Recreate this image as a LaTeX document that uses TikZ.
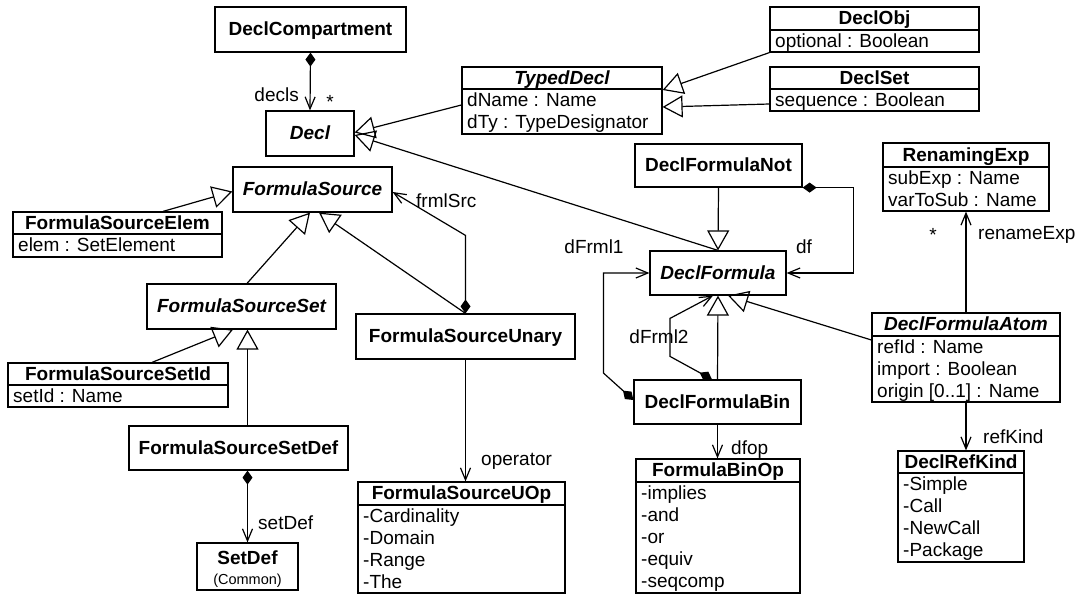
\documentclass[tikz,border=0pt]{standalone}
\usepackage{fontspec}
\setmainfont{Liberation Sans}
\usetikzlibrary{arrows.meta,fit}

\newcommand\basefont{\fontsize{19pt}{22pt}\selectfont}
\newcommand\clsfont{\basefont\bfseries}
\newcommand\absfont{\basefont\bfseries\itshape}
\newcommand\pkgfont{\fontsize{14.5pt}{17pt}\selectfont}

% class with only a name compartment
% #1 name, #2 left, #3 top, #4 right, #5 bottom, #6 font, #7 title
\newcommand\simplebox[7]{%
  \node[box, minimum width={(#4-#2)*1pt}, minimum height={(#5-#3)*1pt}, font=#6]
    (#1) at ({(#2+#4)/2},{(#3+#5)/2}) {#7};
}
% class with a name compartment and a member compartment
% #1 name, #2 left, #3 top, #4 right, #5 bottom, #6 separator, #7 font, #8 title
\newcommand\classbox[8]{%
  \node[box, fit={(#2,#3)(#4,#5)}] (#1) {};
  \draw[box] (#1.west |- 0,#6) -- (#1.east |- 0,#6);
  \node[head, font=#7] (#1-name) at ({(#2+#4)/2},{(#3+#6)/2}) {#8};
}
% one member line: #1 name, #2 x, #3 y, #4 text
\newcommand\member[4]{\node[attr] (#1) at (#2,#3) {#4};}

\tikzset{
  box/.style={draw, line width=1.2pt, inner sep=0pt, text height=12.5pt, text depth=0pt},
  head/.style={inner sep=0pt, text height=12.5pt, text depth=0pt},
  attr/.style={anchor=west, inner sep=0pt, text height=12.5pt, text depth=0pt, font=\basefont},
  lbl/.style={inner sep=0pt, text height=12.5pt, text depth=0pt, font=\basefont},
  wire/.style={line width=1.2pt},
  gen/.style={wire, -{Triangle[open, length=20pt, width=22pt]}},
  nav/.style={wire, -{Straight Barb[length=12pt, width=10pt]}},
  comp/.style={wire, {Diamond[length=14pt, width=10pt]}-{Straight Barb[length=12pt, width=10pt]}},
}

\begin{document}
\begin{tikzpicture}[x=1pt, y=-1pt, font=\basefont]
\useasboundingbox (0,0) rectangle (1083,597);

% ---- single-compartment classes
\simplebox{DeclCompartment}{215}{7}{406}{52}{\clsfont}{DeclCompartment}
\simplebox{Decl}{266}{111}{354}{156}{\absfont}{Decl}
\simplebox{FormulaSource}{233}{167}{392}{212}{\absfont}{FormulaSource}
\simplebox{FormulaSourceSet}{147}{284}{336}{329}{\absfont}{FormulaSourceSet}
\simplebox{FormulaSourceSetDef}{129}{426}{348}{470}{\clsfont}{FormulaSourceSetDef}
\simplebox{FormulaSourceUnary}{356}{314}{575}{359}{\clsfont}{FormulaSourceUnary}
\simplebox{DeclFormulaNot}{635}{144}{802}{187}{\clsfont}{DeclFormulaNot}
\simplebox{DeclFormula}{650}{251}{786}{295}{\absfont}{DeclFormula}
\simplebox{DeclFormulaBin}{634}{380}{801}{424}{\clsfont}{DeclFormulaBin}

\node[box, fit={(197,543)(298,590)}] (SetDef) {};
\node[head, font=\clsfont] (SetDef-name) at (247.5,558) {SetDef};
\node[head, font=\pkgfont, text height=10pt] (SetDef-pkg) at (247.5,579) {(Common)};

% ---- classes with members
\classbox{TypedDecl}{462}{67}{662}{134}{89}{\absfont}{TypedDecl}
\member{TypedDecl-1}{467}{100}{dName : Name}
\member{TypedDecl-2}{467}{122}{dTy : TypeDesignator}

\classbox{DeclObj}{770}{7}{979}{52}{30}{\clsfont}{DeclObj}
\member{DeclObj-1}{775}{41}{optional : Boolean}

\classbox{DeclSet}{770}{67}{979}{111}{89}{\clsfont}{DeclSet}
\member{DeclSet-1}{775}{100}{sequence : Boolean}

\classbox{FormulaSourceElem}{13}{212}{222}{257}{234}{\clsfont}{FormulaSourceElem}
\member{FormulaSourceElem-1}{18}{245}{elem : SetElement}

\classbox{FormulaSourceSetId}{8}{363}{228}{407}{385}{\clsfont}{FormulaSourceSetId}
\member{FormulaSourceSetId-1}{13}{396}{setId : Name}

\classbox{FormulaSourceUOp}{358}{482}{565}{593}{505}{\clsfont}{FormulaSourceUOp}
\member{FormulaSourceUOp-1}{363}{516}{-Cardinality}
\member{FormulaSourceUOp-2}{363}{538}{-Domain}
\member{FormulaSourceUOp-3}{363}{560}{-Range}
\member{FormulaSourceUOp-4}{363}{582}{-The}

\classbox{FormulaBinOp}{636}{459}{800}{593}{482}{\clsfont}{FormulaBinOp}
\member{FormulaBinOp-1}{641}{493}{-implies}
\member{FormulaBinOp-2}{641}{515}{-and}
\member{FormulaBinOp-3}{641}{537}{-or}
\member{FormulaBinOp-4}{641}{559}{-equiv}
\member{FormulaBinOp-5}{641}{581}{-seqcomp}

\classbox{RenamingExp}{883}{143}{1049}{211}{167}{\clsfont}{RenamingExp}
\member{RenamingExp-1}{888}{178}{subExp : Name}
\member{RenamingExp-2}{888}{200}{varToSub : Name}

\classbox{DeclFormulaAtom}{872}{313}{1060}{402}{336}{\absfont}{DeclFormulaAtom}
\member{DeclFormulaAtom-1}{877}{347}{refId : Name}
\member{DeclFormulaAtom-2}{877}{369}{import : Boolean}
\member{DeclFormulaAtom-3}{877}{391}{origin [0..1] : Name}

\classbox{DeclRefKind}{898}{451}{1024}{562}{473}{\clsfont}{DeclRefKind}
\member{DeclRefKind-1}{903}{484}{-Simple}
\member{DeclRefKind-2}{903}{506}{-Call}
\member{DeclRefKind-3}{903}{528}{-NewCall}
\member{DeclRefKind-4}{903}{550}{-Package}

% ---- generalizations
\draw[gen] ([yshift=-4.5pt]TypedDecl.west) -- ([yshift=1pt]Decl.east);
\draw[gen] (DeclFormula.north) -- ([yshift=-1.5pt]Decl.east);
\draw[gen] (DeclObj.south west) -- ([yshift=10.5pt]TypedDecl.east);
\draw[gen] ([yshift=-15pt]DeclSet.west) -- ([yshift=-6.5pt]TypedDecl.east);
\draw[gen] ([xshift=45.5pt]FormulaSourceElem.north) -- ([yshift=-2pt]FormulaSource.west);
\draw[gen] ([xshift=5.5pt]FormulaSourceSet.north) -- ([xshift=-2.5pt]FormulaSource.south);
\draw[gen] (FormulaSourceUnary.north) -- ([xshift=6.5pt]FormulaSource.south);
\draw[gen] ([xshift=34pt]FormulaSourceSetId.north) -- ([xshift=-8.5pt]FormulaSourceSet.south);
\draw[gen] (SetDef.north |- FormulaSourceSetDef.north) -- (SetDef.north |- FormulaSourceSet.south);
\draw[gen] (DeclFormulaNot.south) -- (DeclFormula.north);
\draw[gen] (DeclFormulaBin.north) -- (DeclFormula.south);
\draw[gen] ([yshift=17.5pt]DeclFormulaAtom.west) -- ([xshift=10pt]DeclFormula.south);

% ---- associations
\draw[comp] (DeclCompartment.south) -- (Decl.north);
\node[lbl, anchor=east] (decls-role) at (299,95) {decls};
\node[lbl] (decls-mult) at (330,102) {*};

\draw[comp] (SetDef.north |- FormulaSourceSetDef.south) -- (SetDef.north);
\node[lbl, anchor=west] (setDef-role) at (258,523) {setDef};

\draw[comp] (FormulaSourceUnary.north) -- ++(0,-78) -- ([yshift=-2.5pt]FormulaSource.east);
\node[lbl, anchor=west] (frmlSrc-role) at (416,201) {frmlSrc};

\draw[nav] (FormulaSourceUnary.south) -- (FormulaSourceUnary.south |- FormulaSourceUOp.north);
\node[lbl, anchor=west] (operator-role) at (481,459) {operator};

\draw[comp] (DeclFormulaNot.south east) -- ++(51,0) |- (DeclFormula.east);
\node[lbl] (df-role) at (804,247) {df};

\draw[comp] ([yshift=2pt]DeclFormulaBin.west) -- ++(-30,-27) |- (DeclFormula.west);
\node[lbl] (dFrml1-role) at (594,247) {dFrml1};

\draw[comp] ([xshift=-5.5pt]DeclFormulaBin.north) -- ++(-42,-23) -- ++(0,-38) -- ([xshift=-5pt]DeclFormula.south);
\node[lbl] (dFrml2-role) at (659,337) {dFrml2};

\draw[nav] (DeclFormulaBin.south) -- (DeclFormulaBin.south |- FormulaBinOp.north);
\node[lbl, anchor=west] (dfop-role) at (731,448) {dfop};

\draw[nav] (DeclFormulaAtom.north) -- (DeclFormulaAtom.north |- RenamingExp.south);
\node[lbl] (renameExp-mult) at (933,235) {*};
\node[lbl, anchor=west] (renameExp-role) at (978,233) {renameExp};

\draw[nav] (DeclFormulaAtom.south) -- (DeclFormulaAtom.south |- DeclRefKind.north);
\node[lbl, anchor=west] (refKind-role) at (983,437) {refKind};

\end{tikzpicture}
\end{document}
